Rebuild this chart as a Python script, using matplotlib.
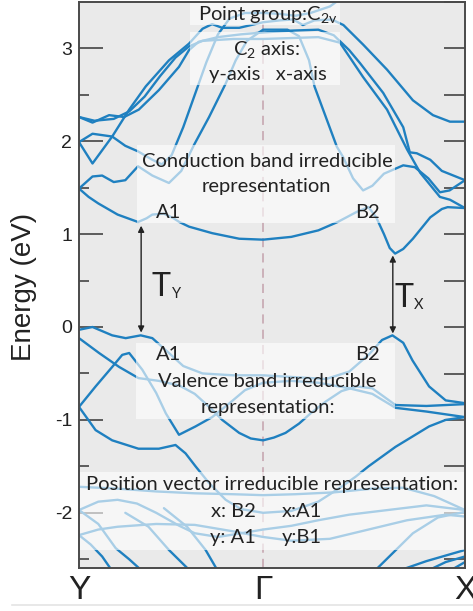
import numpy as np
import matplotlib
matplotlib.use('Agg')
import matplotlib.pyplot as plt
from matplotlib.patches import Rectangle
from matplotlib.lines import Line2D

# ---------------- data ----------------
k_ticks = [0.0, 0.477, 1.0]
k_labels = ['Y', 'Γ', 'X']
y_major = [-2, -1, 0, 1, 2, 3]
y_major_labels = ['-2', '-1', '0', '1', '2', '3']
y_minor = [-2.5, -1.5, -0.5, 0.5, 1.5, 2.5]

# conduction bands
cb1_k = [0, 0.025, 0.05, 0.10, 0.153, 0.175, 0.19, 0.22, 0.245, 0.26, 0.285, 0.345, 0.415, 0.477, 0.55, 0.62, 0.67, 0.72, 0.75, 0.77, 0.79, 0.805, 0.819, 0.84, 0.865, 0.91, 0.94, 0.955, 1.0]
cb1_E = [1.49, 1.40, 1.33, 1.21, 1.13, 1.17, 1.21, 1.22, 1.17, 1.13, 1.08, 1.01, 0.95, 0.94, 0.97, 1.04, 1.13, 1.24, 1.29, 1.18, 1.00, 0.85, 0.79, 0.84, 0.95, 1.18, 1.27, 1.29, 1.28]

cb2_k = [0, 0.035, 0.06, 0.09, 0.12, 0.153, 0.19, 0.233, 0.265, 0.298, 0.337, 0.38, 0.406, 0.435, 0.477, 0.54, 0.57, 0.596, 0.61, 0.668, 0.684, 0.71, 0.736, 0.76, 0.79, 0.84, 0.87, 0.905, 0.935, 0.96, 1.0]
cb2_E = [1.49, 1.62, 1.63, 1.56, 1.58, 1.73, 1.63, 1.55, 1.68, 1.96, 2.26, 2.62, 2.87, 3.08, 3.20, 3.20, 3.13, 2.87, 2.59, 1.94, 1.83, 1.60, 1.47, 1.52, 1.65, 1.74, 1.72, 1.60, 1.45, 1.47, 1.58]

cb3_k = [0, 0.035, 0.086, 0.13, 0.173, 0.233, 0.285, 0.32, 0.345, 0.371, 0.415, 0.477, 0.52, 0.555, 0.58, 0.61, 0.655, 0.685, 0.736, 0.798, 0.865, 0.917, 0.961, 1.0]
cb3_E = [1.99, 1.76, 2.05, 2.34, 2.59, 2.87, 3.05, 3.21, 3.26, 3.22, 3.22, 3.28, 3.30, 3.31, 3.25, 3.30, 3.31, 3.25, 3.04, 2.77, 2.44, 2.28, 2.21, 2.21]

cb4_k = [0, 0.035, 0.078, 0.117, 0.155, 0.207, 0.259, 0.285, 0.31, 0.36, 0.42, 0.477, 0.55, 0.62, 0.66, 0.70, 0.728, 0.788, 0.84, 0.857, 0.875, 0.91, 0.94, 1.0]
cb4_E = [2.26, 2.20, 2.28, 2.26, 2.34, 2.55, 2.80, 2.98, 3.07, 3.12, 3.15, 3.17, 3.19, 3.20, 3.14, 2.98, 2.84, 2.52, 2.15, 1.88, 1.87, 1.80, 1.68, 1.58]

cb5_k = [0, 0.04, 0.09, 0.13, 0.17, 0.21, 0.25, 0.285, 0.32, 0.40, 0.477, 0.55, 0.62, 0.676, 0.736, 0.798, 0.85, 0.884, 0.935, 0.961, 1.0]
cb5_E = [2.26, 2.22, 2.24, 2.32, 2.48, 2.70, 2.90, 3.02, 3.08, 3.10, 3.10, 3.11, 3.12, 3.06, 2.69, 2.34, 1.91, 1.66, 1.40, 1.37, 1.28]

cb6_k = [0, 0.035, 0.086, 0.12, 0.153, 0.19, 0.215, 0.24, 0.27, 0.30, 0.33, 0.36, 0.39, 0.43, 0.477, 0.52, 0.56, 0.60, 0.65, 0.70, 1.0]
cb6_E = [1.99, 2.08, 2.05, 1.95, 1.89, 1.80, 1.75, 1.85, 2.15, 2.50, 2.85, 3.15, 3.32, 3.38, 3.38, 3.37, 3.35, 3.38, 3.45, 3.60, 3.60]

# valence bands
vb1_k = [0, 0.035, 0.086, 0.121, 0.16, 0.19, 0.233, 0.27, 0.32, 0.40, 0.477, 0.56, 0.64, 0.70, 0.75, 0.785, 0.812, 0.84, 0.864, 0.907, 0.95, 1.0]
vb1_E = [-0.03, 0.0, -0.09, -0.12, -0.09, -0.12, -0.28, -0.42, -0.50, -0.52, -0.52, -0.54, -0.56, -0.48, -0.30, -0.14, -0.09, -0.17, -0.36, -0.64, -0.79, -0.82]

vb2_k = [0, 0.052, 0.104, 0.154, 0.207, 0.26, 0.30, 0.34, 0.371, 0.415, 0.445, 0.477, 0.505, 0.535, 0.57, 0.60, 0.64, 0.68, 0.72, 0.76, 0.82, 0.90, 1.0]
vb2_E = [-0.12, -0.28, -0.43, -0.55, -0.58, -0.63, -0.72, -0.87, -1.00, -1.14, -1.20, -1.22, -1.19, -1.14, -1.04, -0.93, -0.80, -0.69, -0.64, -0.66, -0.84, -0.85, -0.83]

vb3_k = [0, 0.043, 0.086, 0.112, 0.13, 0.164, 0.20, 0.225, 0.259, 0.302, 0.345, 0.39, 0.43, 0.477, 0.55, 0.62, 0.70, 0.76, 0.82, 0.90, 1.0]
vb3_E = [-0.86, -0.64, -0.43, -0.30, -0.28, -0.46, -0.71, -0.93, -1.16, -1.07, -0.97, -0.82, -0.68, -0.60, -0.58, -0.60, -0.66, -0.72, -0.87, -0.91, -0.97]

vb4_k = [0, 0.043, 0.086, 0.154, 0.207, 0.25, 0.276, 0.302, 0.337, 0.38, 0.42, 0.477, 0.55, 0.62, 0.68, 0.717, 0.75, 0.82, 0.907, 0.95, 1.0]
vb4_E = [-0.86, -1.11, -1.22, -1.31, -1.31, -1.27, -1.36, -1.50, -1.68, -1.86, -1.96, -2.00, -1.98, -1.88, -1.72, -1.61, -1.50, -1.29, -1.07, -1.00, -0.97]

# deeper bands
lb1_k = [0, 0.10, 0.20, 0.30, 0.40, 0.477, 0.56, 0.66, 0.76, 0.84, 0.92, 1.0]
lb1_E = [-1.72, -1.74, -1.77, -1.79, -1.80, -1.81, -1.80, -1.78, -1.74, -1.73, -1.82, -1.97]

lb2_k = [0, 0.05, 0.10, 0.15, 0.20, 0.26, 0.30, 0.36, 0.42, 0.477, 0.55, 0.62, 0.70, 0.80, 0.90, 1.0]
lb2_E = [-1.97, -1.88, -1.86, -1.90, -2.00, -2.14, -2.22, -2.26, -2.22, -2.18, -2.14, -2.08, -2.02, -1.97, -1.92, -1.97]

lb3_k = [0, 0.05, 0.095, 0.13, 0.17]
lb3_E = [-1.97, -2.12, -2.38, -2.50, -2.65]

lb4_k = [0, 0.05, 0.10, 0.20, 0.30, 0.40, 0.477, 0.55, 0.65, 0.75, 0.85, 0.95, 1.0]
lb4_E = [-2.24, -2.18, -2.15, -2.12, -2.13, -2.20, -2.26, -2.30, -2.28, -2.18, -2.08, -2.02, -2.04]

lb5_k = [0, 0.03, 0.06, 0.09]
lb5_E = [-2.24, -2.34, -2.47, -2.65]

lb6_k = [0.12, 0.18, 0.233, 0.294]
lb6_E = [-2.00, -2.15, -2.40, -2.65]

lb7_k = [0.22, 0.28, 0.328, 0.363]
lb7_E = [-1.95, -2.15, -2.40, -2.65]

lb8_k = [0.81, 0.90, 1.0]
lb8_E = [-2.65, -2.52, -2.40]

lb9_k = [0.89, 0.95, 1.0]
lb9_E = [-2.65, -2.53, -2.47]

lb10_k = [0.95, 1.0]
lb10_E = [-2.65, -2.53]

lb11_k = [0.76, 0.865, 0.93, 1.0]
lb11_E = [-2.65, -2.22, -2.05, -1.99]

bands = [(cb1_k, cb1_E), (cb2_k, cb2_E), (cb3_k, cb3_E), (cb4_k, cb4_E),
         (cb5_k, cb5_E), (cb6_k, cb6_E),
         (vb1_k, vb1_E), (vb2_k, vb2_E), (vb3_k, vb3_E), (vb4_k, vb4_E),
         (lb1_k, lb1_E), (lb2_k, lb2_E), (lb3_k, lb3_E), (lb4_k, lb4_E),
         (lb5_k, lb5_E), (lb6_k, lb6_E), (lb7_k, lb7_E), (lb8_k, lb8_E),
         (lb9_k, lb9_E), (lb10_k, lb10_E), (lb11_k, lb11_E)]

# transitions (k, upper E, lower E)
trans_k = [0.161, 0.813]
trans_hi = [1.09, 0.77]
trans_lo = [-0.06, -0.07]

# ---------------- figure ----------------
W, H = 473, 611
plt.rcParams['mathtext.fontset'] = 'custom'
plt.rcParams['mathtext.rm'] = 'Lato'
plt.rcParams['mathtext.it'] = 'Lato:italic'

fig = plt.figure(figsize=(W / 100, H / 100), dpi=100)
fig.patch.set_facecolor('white')

AX_L, AX_R, AX_T, AX_B = 79, 465, 2, 568
rect = [AX_L / W, 1 - AX_B / H, (AX_R - AX_L) / W, (AX_B - AX_T) / H]
ax2 = fig.add_axes(rect)
ax = fig.add_axes(rect)
ax2.set_zorder(0)
ax.set_zorder(1)
ax.patch.set_visible(False)
ax2.set_facecolor('#eaeaea')

ylo, yhi = -2.594, 3.498
for a in (ax, ax2):
    a.set_xlim(0, 1)
    a.set_ylim(ylo, yhi)

ax2.yaxis.tick_right()
ax2.set_yticks(np.arange(-2.5, 3.51, 0.5))
ax2.tick_params(axis='y', direction='in', length=15, width=1.2, color='#444', labelright=False)
ax2.set_xticks([])
for s in ax2.spines.values():
    s.set_visible(False)

ax.set_yticks(y_major)
ax.set_yticklabels(y_major_labels, family='Liberation Sans', fontsize=14, color='#222')
ax.set_yticks(y_minor, minor=True)
ax.tick_params(axis='y', which='major', direction='in', length=17, width=1.2, color='#444', pad=5, right=False)
ax.tick_params(axis='y', which='minor', direction='in', length=7, width=1.2, color='#444', right=False)
ax.set_xticks(k_ticks)
ax.set_xticklabels(k_labels, family='Liberation Sans', fontsize=24, color='#222')
ax.tick_params(axis='x', length=0, pad=5)
for s in ax.spines.values():
    s.set_color('#4a4a4a')
    s.set_linewidth(1.4)
    s.set_zorder(5)

ax.axvline(k_ticks[1], color='#c4a2ac', lw=1.1, ls=(0, (6, 4)), zorder=1.5)

for kk, ee in bands:
    ax.plot(kk, ee, color='#1f80c0', lw=1.7, zorder=2, solid_joinstyle='round', solid_capstyle='round')


def fx(px):
    return (px - AX_L) / (AX_R - AX_L)


def fy(py):
    return (AX_B - py) / (AX_B - AX_T)


boxes = [(190, 340, 2, 25), (190, 340, 32, 85), (137, 395, 145, 223),
         (136, 395, 343, 419), (79, 465, 472, 550)]
for x0, x1, y0, y1 in boxes:
    ax.add_patch(Rectangle((fx(x0), fy(y1)), fx(x1) - fx(x0), fy(y0) - fy(y1),
                           transform=ax.transAxes, facecolor='white', alpha=0.62,
                           edgecolor='none', zorder=3))

TF = 'Lato'
TS = 14.5
TC = '#222222'
texts = [
    ('Point group:C$_{\\mathrm{2v}}$', 268, 20),
    ('C$_{\\mathrm{2}}$ axis:', 266, 55),
    ('y-axis   x-axis', 268, 80),
    ('Conduction band irreducible', 267, 167),
    ('representation', 266, 192),
    ('A1', 169, 218),
    ('B2', 367, 218),
    ('A1', 169, 360),
    ('B2', 367, 360),
    ('Valence band irreducible', 267, 387),
    ('representation:', 268, 413),
    ('Position vector irreducible representation:', 272, 490),
    ('x: B2', 233, 517),
    ('x:A1', 302, 517),
    ('y: A1', 233, 543),
    ('y:B1', 302, 543),
]
for s, px, py in texts:
    ax.text(fx(px), fy(py), s, transform=ax.transAxes, ha='center', va='baseline',
            family=TF, fontsize=TS, color=TC, zorder=6)

for kk, hi, lo in zip(trans_k, trans_hi, trans_lo):
    ax.annotate('', xy=(kk, hi), xytext=(kk, lo),
                arrowprops=dict(arrowstyle='<|-|>', color='#222', lw=1.0,
                                mutation_scale=9, shrinkA=0, shrinkB=0), zorder=6)

ax.text(fx(161), fy(296), 'T', transform=ax.transAxes, ha='center', va='baseline',
        family=TF, fontsize=23, color=TC, zorder=6)
ax.text(fx(177), fy(298), 'Y', transform=ax.transAxes, ha='center', va='baseline',
        family=TF, fontsize=10.5, color=TC, zorder=6)
ax.text(fx(404), fy(307), 'T', transform=ax.transAxes, ha='center', va='baseline',
        family=TF, fontsize=23, color=TC, zorder=6)
ax.text(fx(419), fy(309), 'X', transform=ax.transAxes, ha='center', va='baseline',
        family=TF, fontsize=10.5, color=TC, zorder=6)

fig.text(24 / W, 1 - 287 / H, 'Energy (eV)', rotation=90, ha='center', va='center',
         family='Liberation Sans', fontsize=20, color='#222')

fig.add_artist(Line2D([12 / W, 1], [1 - 605 / H, 1 - 605 / H], color='#e4e4e4', lw=1.2))

fig.savefig('out.png', dpi=100, facecolor='white')
